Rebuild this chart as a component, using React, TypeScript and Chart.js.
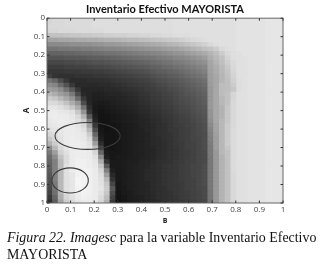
import React, { useEffect, useRef } from "react";
import { Chart, registerables } from "chart.js";

Chart.register(...registerables);

const chartTitle = "Inventario Efectivo MAYORISTA";
const xAxisLabel = "B";
const yAxisLabel = "A";
const tickValues = [0, 0.1, 0.2, 0.3, 0.4, 0.5, 0.6, 0.7, 0.8, 0.9, 1];
// ellipse annotations: [B centre, A centre, B radius, A radius]
const ellipseLarge = [0.172, 0.637, 0.138, 0.073];
const ellipseSmall = [0.098, 0.878, 0.077, 0.068];

// brightness (percent) of each cell, one array per row of A
const r00 = [84,85,85,86,86,86,86,86,87,87,87,87,87,87,87,87,87,87,87,87,87,87,88,88,88,88,88,88,88,88,88,88,88,89,89,89,89,89,90,90,90];
const r01 = [85,85,85,86,86,86,86,86,87,87,87,87,87,87,87,87,87,87,87,87,87,87,88,88,88,88,88,88,88,88,88,88,88,89,89,89,89,89,90,90,90];
const r02 = [84,84,85,85,85,86,86,86,86,86,87,87,87,87,87,87,87,87,87,87,87,87,88,88,88,88,88,88,88,88,88,88,88,89,89,89,89,89,90,90,90];
const r03 = [76,76,76,77,78,78,79,79,80,80,81,81,82,82,83,83,84,84,85,85,86,86,87,87,87,88,88,88,88,88,88,88,88,89,89,89,89,89,90,90,90];
const r04 = [64,64,65,65,66,67,67,68,68,69,70,70,71,72,73,73,74,75,76,77,78,79,80,81,83,85,86,87,88,88,88,88,88,89,89,89,89,89,90,90,90];
const r05 = [54,54,54,55,56,56,57,57,58,59,60,60,61,62,63,64,65,66,67,68,69,71,72,74,76,78,80,82,85,87,88,88,88,89,89,89,89,89,90,90,90];
const r06 = [46,46,47,47,48,48,49,49,50,51,52,52,53,54,55,56,57,58,59,60,62,63,64,66,68,70,72,75,77,80,85,87,88,89,89,89,89,89,90,90,90];
const r07 = [39,39,39,40,40,41,42,42,43,44,45,45,46,47,48,49,50,51,52,53,55,56,58,59,61,63,65,67,71,75,80,85,87,88,89,89,89,89,90,90,90];
const r08 = [33,33,33,34,34,35,35,36,37,37,38,39,40,41,42,43,44,45,46,48,49,50,52,53,55,57,59,61,68,72,76,83,87,88,88,89,89,89,90,90,90];
const r09 = [28,28,28,29,29,30,30,31,32,32,33,34,35,36,37,38,39,40,42,43,45,46,48,49,51,53,55,57,65,70,75,81,86,88,88,89,89,89,90,90,90];
const r10 = [24,24,24,25,25,26,26,27,28,28,29,30,31,32,33,34,35,36,38,39,41,42,44,45,47,49,51,53,64,68,73,79,85,88,88,89,89,89,90,90,90];
const r11 = [21,21,21,22,22,22,23,23,24,24,25,26,27,28,29,30,31,32,34,36,37,39,40,42,44,46,48,50,63,67,72,77,84,88,88,89,89,89,90,90,90];
const r12 = [25,20,19,19,19,20,20,20,21,21,22,23,24,25,26,27,28,29,31,33,34,36,37,39,41,43,45,47,62,66,71,76,83,88,88,89,89,89,90,90,90];
const r13 = [45,40,30,22,17,17,17,18,18,18,19,20,21,22,23,24,25,26,28,30,31,33,34,36,38,40,42,44,62,65,71,75,82,87,88,89,89,89,90,90,90];
const r14 = [55,52,42,32,22,16,16,16,16,17,17,18,19,20,21,22,23,24,26,28,29,31,32,34,36,38,40,42,61,66,74,75,80,87,88,89,89,89,90,90,90];
const r15 = [62,60,55,45,35,22,15,15,15,15,16,16,17,18,19,20,21,23,24,26,27,29,30,32,34,36,38,40,60,66,74,75,78,87,88,89,89,89,90,90,90];
const r16 = [72,68,62,58,48,30,16,14,13,13,14,15,15,16,17,18,20,21,23,24,26,27,29,31,33,34,36,38,60,66,74,76,84,88,88,89,89,89,90,90,90];
const r17 = [80,78,72,66,58,42,22,14,12,12,13,13,14,15,16,17,19,20,22,23,25,26,28,30,31,33,35,37,60,66,72,76,84,88,88,89,89,89,90,90,90];
const r18 = [86,85,82,76,68,58,30,15,11,10,11,12,13,14,15,16,18,19,21,22,24,25,27,29,30,32,34,36,60,66,72,76,85,88,88,89,89,89,90,90,90];
const r19 = [90,90,88,84,78,68,45,18,10,9,10,11,12,13,14,15,17,18,20,21,23,24,26,28,29,31,33,35,60,66,70,78,85,88,88,89,89,89,90,90,90];
const r20 = [92,92,91,90,88,78,58,22,10,8,9,10,11,12,13,14,16,17,19,20,22,23,25,27,28,30,32,34,58,66,70,78,85,88,88,89,89,89,90,90,90];
const r21 = [92,93,92,92,90,85,70,35,12,8,8,9,10,11,12,13,15,16,18,19,21,22,24,26,27,29,31,33,58,66,70,78,85,88,88,89,89,89,90,90,90];
const r22 = [91,92,93,92,91,88,80,50,14,8,8,9,10,11,12,13,14,15,17,18,20,21,23,25,26,28,30,32,56,66,72,78,85,88,88,89,89,89,90,90,90];
const r23 = [90,91,92,92,92,90,85,62,22,8,7,8,9,10,11,12,14,15,16,18,19,21,23,24,26,27,29,31,54,64,72,80,85,88,88,89,89,89,90,90,90];
const r24 = [88,89,91,92,92,91,88,72,30,9,7,8,9,10,11,12,13,15,16,18,19,21,22,24,25,27,29,31,52,64,72,80,86,88,88,89,89,89,90,90,90];
const r25 = [84,86,90,92,92,92,90,80,40,10,8,8,9,10,11,12,13,14,16,18,19,20,22,24,25,27,29,30,51,63,72,80,86,88,88,89,89,89,90,90,90];
const r26 = [78,84,89,92,93,92,91,85,50,12,8,8,9,10,11,12,13,14,16,17,19,20,22,24,25,27,28,30,50,62,72,80,86,88,88,89,89,89,90,90,90];
const r27 = [70,80,88,92,93,93,92,88,62,18,8,8,9,10,11,12,13,14,16,17,18,20,22,23,25,26,28,30,49,62,72,80,86,88,88,89,89,89,90,90,90];
const r28 = [55,72,85,90,93,93,92,90,74,28,9,8,9,10,11,12,13,14,15,17,18,20,21,23,25,26,28,30,48,62,72,78,86,88,88,89,89,89,90,90,90];
const r29 = [48,62,82,88,92,93,93,92,84,40,10,9,9,10,11,12,13,14,15,17,18,20,21,23,24,26,28,29,48,60,72,76,86,88,88,89,89,89,90,90,90];
const r30 = [42,55,76,86,92,93,93,92,88,55,12,9,10,10,11,12,13,14,15,17,18,20,21,23,24,26,28,29,47,60,70,76,86,88,88,89,89,89,90,90,90];
const r31 = [40,50,72,86,92,94,94,93,90,68,20,10,10,11,12,12,14,15,16,18,19,20,22,23,25,26,28,29,47,60,70,76,86,88,88,89,89,89,90,90,90];
const r32 = [38,50,72,88,92,94,94,93,91,78,35,10,10,11,12,13,14,15,17,18,20,21,22,24,25,27,28,30,47,60,70,76,86,88,88,89,89,89,90,90,90];
const r33 = [36,50,72,88,92,95,94,94,92,84,50,12,10,11,12,13,14,16,17,18,20,21,22,24,25,27,28,30,47,60,70,76,86,88,88,89,89,89,90,90,90];
const r34 = [34,50,72,88,90,95,95,94,92,87,62,16,10,11,12,13,14,16,17,18,20,21,22,24,25,27,28,30,47,60,70,76,85,88,88,89,89,89,90,90,90];
const r35 = [32,50,72,88,90,96,95,94,92,88,72,20,10,11,12,13,14,16,17,18,20,21,22,24,25,26,28,30,47,60,70,76,85,88,88,89,89,89,90,90,90];
const r36 = [30,48,72,88,90,96,95,94,92,89,78,28,9,11,12,13,14,15,17,18,20,21,22,23,25,26,28,30,47,60,70,76,85,88,88,89,89,89,90,90,90];
const r37 = [28,46,72,88,90,95,95,94,92,90,80,35,9,10,12,13,14,15,17,18,19,21,22,23,25,26,28,29,47,60,70,76,85,88,88,89,89,89,90,90,90];
const r38 = [26,44,70,86,90,93,95,94,92,88,78,30,8,10,11,13,14,15,16,18,19,20,22,23,24,26,27,29,46,60,70,76,85,88,88,89,89,89,90,90,90];
const r39 = [22,40,68,84,88,92,94,93,92,86,74,26,8,9,11,12,13,15,16,18,19,20,21,23,24,26,27,29,46,60,70,76,85,88,88,89,89,89,90,90,90];
const r40 = [18,36,64,80,86,90,92,92,90,84,70,22,7,9,11,12,13,15,16,17,19,20,21,22,24,25,27,28,45,60,70,76,85,88,88,89,89,89,90,90,90];
const rows = [r00,r01,r02,r03,r04,r05,r06,r07,r08,r09,r10,r11,r12,r13,r14,r15,r16,r17,r18,r19,r20,r21,r22,r23,r24,r25,r26,r27,r28,r29,r30,r31,r32,r33,r34,r35,r36,r37,r38,r39,r40];

const gray = (p: number) => {
  const v = Math.round((p / 100) * 255);
  return `rgb(${v},${v},${v})`;
};

const frame = {
  id: "frame",
  afterDatasetsDraw(chart: any) {
    const { ctx, chartArea: a, scales } = chart;
    ctx.save();
    ctx.strokeStyle = "#666";
    ctx.lineWidth = 1;
    ctx.strokeRect(a.left, a.top, a.right - a.left, a.bottom - a.top);
    ctx.strokeStyle = "#333";
    ctx.beginPath();
    for (const t of tickValues) {
      const x = scales.x.getPixelForValue(t);
      const y = scales.y.getPixelForValue(t);
      ctx.moveTo(x, a.top); ctx.lineTo(x, a.top + 2.5);
      ctx.moveTo(x, a.bottom); ctx.lineTo(x, a.bottom - 2.5);
      ctx.moveTo(a.left, y); ctx.lineTo(a.left + 2.5, y);
      ctx.moveTo(a.right, y); ctx.lineTo(a.right - 2.5, y);
    }
    ctx.stroke();
    ctx.strokeStyle = "#3c3c3c";
    ctx.lineWidth = 1.1;
    for (const [b, s, rb, rs] of [ellipseLarge, ellipseSmall]) {
      const cx = scales.x.getPixelForValue(b);
      const cy = scales.y.getPixelForValue(s);
      const rx = Math.abs(scales.x.getPixelForValue(b + rb) - cx);
      const ry = Math.abs(scales.y.getPixelForValue(s + rs) - cy);
      ctx.beginPath();
      ctx.ellipse(cx, cy, rx, ry, 0, 0, Math.PI * 2);
      ctx.stroke();
    }
    ctx.restore();
  },
};

export default function App() {
  const ref = useRef<HTMLCanvasElement>(null);
  useEffect(() => {
    const n = rows[0].length;
    const m = rows.length;
    const tickFont = { family: "'Open Sans'", size: 8 };
    const chart = new Chart(ref.current!, {
      type: "bar",
      data: {
        datasets: rows.map((row, j) => ({
          data: row.map((_, i) => ({ x: (i + 0.5) / n, y: [j / m, Math.min(1, (j + 1.3) / m)] })),
          backgroundColor: row.map(gray),
          borderWidth: 0,
          inflateAmount: 0,
          grouped: false,
          barPercentage: 1.25,
          categoryPercentage: 1,
        })),
      },
      options: {
        animation: false,
        responsive: false,
        layout: { padding: { left: 0, right: 38, bottom: 40, top: 0 } },
        plugins: {
          legend: { display: false },
          tooltip: { enabled: false },
          title: {
            display: true,
            text: chartTitle,
            color: "#111",
            fullSize: false,
            font: { family: "Lato", size: 11, weight: "bold" },
            padding: { top: 3, bottom: 2 },
          },
        },
        scales: {
          x: {
            type: "linear",
            offset: false,
            min: 0,
            max: 1,
            grid: { display: false, drawTicks: false },
            border: { display: false },
            afterBuildTicks: (s: any) => { s.ticks = tickValues.map((value) => ({ value })); },
            ticks: { color: "#444", font: tickFont, maxRotation: 0, padding: 2, callback: (v: any) => String(v) },
            title: { display: true, text: xAxisLabel, color: "#222", font: { family: "'Open Sans'", size: 7, weight: "bold" }, padding: 0 },
          },
          y: {
            reverse: true,
            min: 0,
            max: 1,
            grid: { display: false, drawTicks: false },
            border: { display: false },
            afterBuildTicks: (s: any) => { s.ticks = tickValues.map((value) => ({ value })); },
            afterFit: (s: any) => { s.width = 47; },
            ticks: { color: "#444", font: tickFont, padding: 2, callback: (v: any) => String(v) },
            title: { display: true, text: yAxisLabel, color: "#222", font: { family: "'Open Sans'", size: 8, weight: "bold" }, padding: { top: 22, bottom: 0 } },
          },
        },
      },
      plugins: [frame],
    } as any);
    return () => chart.destroy();
  }, []);
  return (
    <div style={{ position: "absolute", left: 0, top: 0, width: 321, height: 265, background: "#fff", overflow: "hidden" }}>
      <canvas ref={ref} width={321} height={265} style={{ display: "block", filter: "blur(0.35px)" }} />
      <div style={{ position: "absolute", left: 7, top: 229, width: 314, fontFamily: "'Liberation Serif'", fontSize: 13.9, lineHeight: "17px", color: "#111", whiteSpace: "nowrap" }}>
        <i>Figura 22. Imagesc</i> para la variable Inventario Efectivo
        <br />
        MAYORISTA
      </div>
    </div>
  );
}
